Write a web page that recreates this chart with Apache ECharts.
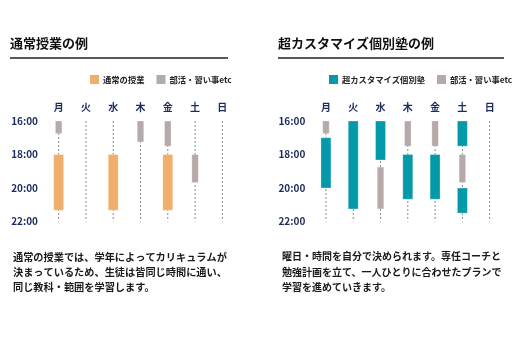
<!DOCTYPE html>
<html><head><meta charset="utf-8">
<script src="https://cdn.jsdelivr.net/npm/echarts@6/dist/echarts.min.js"></script>
<style>html,body{margin:0;padding:0;background:#fff}#c{width:512px;height:343px}</style>
</head><body><div id="c"></div>
<script>
const days = ['月','火','水','木','金','土','日'];
const yTicks = [16, 18, 20, 22];
const leftTitle = '通常授業の例';
const rightTitle = '超カスタマイズ個別塾の例';
const mainLeftName = '通常の授業';
const mainRightName = '超カスタマイズ個別塾';
const subName = '部活・習い事etc';
// [dayIndex, startHour, endHour]
const leftMain = [[0,18,21.33],[2,18,21.33],[4,18,21.33]];
const leftSub = [[0,16,16.75],[3,16,17.25],[4,16,17.5],[5,18,19.67]];
const rightMain = [[0,17,20],[1,16,21.25],[2,16,18.33],[3,18,20.67],[4,18,20.67],[5,16,17.5],[5,20,21.5]];
const rightSub = [[0,16,16.75],[2,18.75,21.25],[3,16,17.5],[4,16,17.5],[5,18,19.67]];
const leftText = '通常の授業では、学年によってカリキュラムが\n決まっているため、生徒は皆同じ時間に通い、\n同じ教科・範囲を学習します。';
const rightText = '曜日・時間を自分で決められます。専任コーチと\n勉強計画を立て、一人ひとりに合わせたプランで\n学習を進めていきます。';

const NAVY = '#1d2a5c', ORANGE = '#f0ae6c', GRAY = '#b5a9a9', TEAL = '#0399a9';
const FONT = '"Noto Sans CJK JP", "Noto Sans", sans-serif';

function barRenderer(w){
  return function(params, api){
    const p0 = api.coord([api.value(0), api.value(1)]);
    const p1 = api.coord([api.value(0), api.value(2)]);
    return {type:'rect', shape:{x:p0[0]-w/2, y:p0[1], width:w, height:p1[1]-p0[1]},
      style:{fill:api.visual('color'), stroke:'rgba(255,255,255,0.5)', lineWidth:0.6}};
  };
}
function lineRenderer(params, api){
  const p0 = api.coord([api.value(0), yTicks[0]]);
  const p1 = api.coord([api.value(0), yTicks[yTicks.length-1]]);
  return {type:'line', shape:{x1:p0[0], y1:p0[1], x2:p1[0], y2:p1[1]},
    style:{stroke:'#8a8a8a', lineWidth:1, lineDash:[2,2]}};
}
const dayIdx = days.map((d,i)=>[i]);

function xAxis(gi){
  return {type:'category', data:days, gridIndex:gi, position:'top', boundaryGap:true,
    axisLine:{show:false}, axisTick:{show:false}, splitLine:{show:false},
    axisLabel:{color:NAVY, fontSize:10, fontWeight:'bold', fontFamily:FONT, margin:9}};
}
function yAxis(gi){
  return {type:'value', gridIndex:gi, inverse:true, min:16, max:22, interval:2,
    axisLine:{show:false}, axisTick:{show:false}, splitLine:{show:false},
    axisLabel:{color:NAVY, fontSize:10, fontWeight:'bold', fontFamily:FONT, margin:7,
      formatter:v=>v+':00'}};
}
function cs(name, gi, data, color, w){
  return {type:'custom', name:name, xAxisIndex:gi, yAxisIndex:gi, data:data,
    encode:{x:0, y:[1,2]}, itemStyle:{color:color}, renderItem:barRenderer(w), z:3};
}
const legendText = {fontSize:8.3, fontWeight:'bold', color:'#222', fontFamily:FONT, padding:[0,0,0,-1]};

const chart = echarts.init(document.getElementById('c'), null, {renderer:'canvas'});
chart.setOption({
  animation:false,
  title:[
    {text:leftTitle, left:10, top:37, padding:0, textStyle:{fontSize:13, fontWeight:'bold', color:'#111', fontFamily:FONT}},
    {text:rightTitle, left:278, top:37, padding:0, textStyle:{fontSize:13, fontWeight:'bold', color:'#111', fontFamily:FONT}}
  ],
  legend:[
    {data:[mainLeftName, subName], left:90, top:75, width:240, orient:'horizontal', padding:0, itemWidth:9, itemHeight:9, itemGap:12, icon:'rect',
      selectedMode:false, textStyle:legendText},
    {data:[mainRightName, subName], left:329, top:75, width:240, orient:'horizontal', padding:0, itemWidth:9, itemHeight:9, itemGap:12, icon:'rect',
      selectedMode:false, textStyle:legendText}
  ],
  grid:[
    {left:45, width:191, top:121, height:100.5},
    {left:312.3, width:191, top:121, height:100.5}
  ],
  xAxis:[xAxis(0), xAxis(1)],
  yAxis:[yAxis(0), yAxis(1)],
  series:[
    {type:'custom', name:'lines0', xAxisIndex:0, yAxisIndex:0, data:dayIdx, encode:{x:0}, renderItem:lineRenderer, z:1, silent:true},
    {type:'custom', name:'lines1', xAxisIndex:1, yAxisIndex:1, data:dayIdx, encode:{x:0}, renderItem:lineRenderer, z:1, silent:true},
    cs(mainLeftName, 0, leftMain, ORANGE, 10),
    cs(subName, 0, leftSub, GRAY, 6.5),
    cs(mainRightName, 1, rightMain, TEAL, 10),
    cs(subName, 1, rightSub, GRAY, 6.5)
  ],
  graphic:[
    {type:'line', shape:{x1:10, y1:58, x2:228, y2:58}, style:{stroke:'#222', lineWidth:1.5}},
    {type:'line', shape:{x1:278, y1:58, x2:504, y2:58}, style:{stroke:'#222', lineWidth:1.5}},
    {type:'text', left:13, top:249, style:{text:leftText, font:'bold 10.2px '+FONT, lineHeight:15.3, fill:'#1a1a1a'}},
    {type:'text', left:282, top:249, style:{text:rightText, font:'bold 10px '+FONT, lineHeight:15.3, fill:'#1a1a1a'}}
  ]
});
</script></body></html>
